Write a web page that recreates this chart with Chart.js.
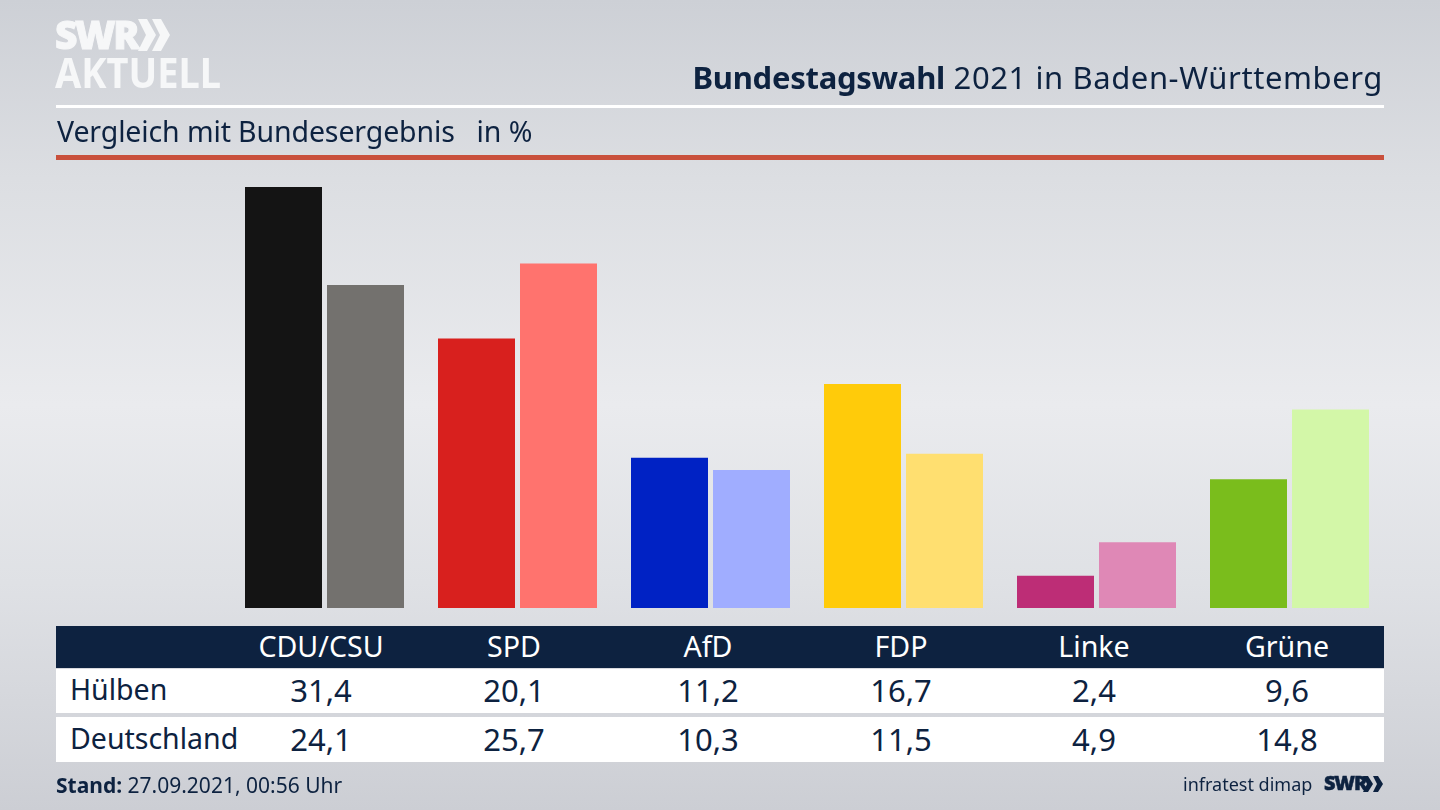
<!DOCTYPE html>
<html lang="de">
<head>
<meta charset="utf-8">
<script src="https://cdn.jsdelivr.net/npm/chart.js@4"></script>
<style>
    html, body { margin: 0; padding: 0; }
    body {
        width: 1440px; height: 810px; overflow: hidden; position: relative;
        font-family: "Noto Sans", sans-serif; color: #0d2240;
        background: linear-gradient(180deg, #cdd0d6 0%, #dcdee2 22%, #eaebee 50%, #dfe1e5 72%, #ccced4 100%);
    }
    #chart { position: absolute; left: 0; top: 0; }
    .txt { position: absolute; white-space: pre; line-height: 1; }
    .line { position: absolute; left: 56px; width: 1328px; }
    .row { position: absolute; left: 56px; width: 1328px; }
    .cell { position: absolute; transform: translateX(-50%); white-space: pre; line-height: 1; font-size: 31px; }
    #head .cell { font-size: 28.6px; }
</style>
</head>
<body>
<canvas id="chart" width="1440" height="810" style="width:1440px;height:810px"></canvas>

<svg style="position:absolute;left:0;top:0" width="240" height="100">
    <polygon fill="#f6f7f8" points="138,19 147,19 156,35 147,51 138,51 146,35"/>
    <polygon fill="#f6f7f8" points="152,19 161,19 170,35 161,51 152,51 160,35"/>
</svg>
<div class="txt" style="left:55px;top:14px;font-size:39px;font-weight:800;color:#f6f7f8;letter-spacing:-2.4px;font-family:'Open Sans';-webkit-text-stroke:1px #f6f7f8">SWR</div>
<div class="txt" style="left:55px;top:51px;font-size:42px;font-weight:700;color:#f6f7f8;transform:scaleX(.905);transform-origin:0 0">AKTUELL</div>

<div class="txt" id="title" style="right:57px;top:62px;font-size:31px;letter-spacing:.58px"><b style="letter-spacing:-.27px">Bundestagswahl</b> 2021 in Baden-Württemberg</div>
<div class="line" style="top:105px;height:3px;background:#fff"></div>
<div class="txt" style="left:57px;top:117px;font-size:28.5px;letter-spacing:-.12px">Vergleich mit Bundesergebnis   in %</div>
<div class="line" style="top:155px;height:5px;background:#c9503c"></div>

<div class="row" id="head" style="top:626px;height:42px;background:#0d2240;color:#fff"></div>
<div class="row" id="row1" style="top:669px;height:44px;background:#fff"></div>
<div class="row" id="row2" style="top:717px;height:45px;background:#fff"></div>

<div class="txt" style="left:56px;top:775px;font-size:21px"><b>Stand:</b> 27.09.2021, 00:56 Uhr</div>
<div class="txt" style="left:1183px;top:775px;font-size:18px">infratest dimap</div>
<div class="txt" style="left:1324px;top:773px;font-size:20px;font-weight:800;letter-spacing:-1.2px;font-family:'Open Sans';-webkit-text-stroke:.5px #0d2240">SWR</div>
<svg style="position:absolute;left:1363px;top:775px" width="22" height="20">
    <polygon fill="#0d2240" points="0,1 5,1 10,9 5,17 0,17 4,9"/>
    <polygon fill="#0d2240" points="10,1 15,1 20,9 15,17 10,17 14,9"/>
</svg>

<script>
const parties = ["CDU/CSU", "SPD", "AfD", "FDP", "Linke", "Grüne"];
const regionNames = ["Hülben", "Deutschland"];
const huelben = [31.4, 20.1, 11.2, 16.7, 2.4, 9.6];
const deutschland = [24.1, 25.7, 10.3, 11.5, 4.9, 14.8];
const huelbenColors = ["#141414", "#d8201e", "#0022c4", "#ffcb0a", "#bd2d76", "#7abd1c"];
const deutschlandColors = ["#73716e", "#ff736e", "#a0adff", "#ffdf70", "#df88b6", "#d3f7a8"];

const ctx = document.getElementById("chart").getContext("2d");
new Chart(ctx, {
    type: "bar",
    data: {
        labels: parties,
        datasets: [
            { label: regionNames[0], data: huelben, backgroundColor: huelbenColors },
            { label: regionNames[1], data: deutschland, backgroundColor: deutschlandColors },
        ],
    },
    options: {
        responsive: false,
        animation: false,
        datasets: { bar: { categoryPercentage: 164 / 193, barPercentage: 77 / 82 } },
        layout: { padding: { left: 228, right: 54, top: 179, bottom: 202 } },
        plugins: { legend: { display: false }, tooltip: { enabled: false } },
        scales: {
            x: { display: false },
            y: { display: false, min: 0, max: 32 },
        },
    },
});

// table below the bars
const fmt = (v) => v.toFixed(1).replace(".", ",");
const colX = [265, 458, 652, 845, 1038, 1231];

function addCell(parent, text, x, top) {
    const el = document.createElement("div");
    el.className = "cell";
    el.textContent = text;
    el.style.left = x + "px";
    el.style.top = top + "px";
    parent.appendChild(el);
}

const head = document.getElementById("head");
parties.forEach((p, i) => addCell(head, p, colX[i], 6));

[["row1", huelben, 6], ["row2", deutschland, 7]].forEach(([id, values, top], r) => {
    const row = document.getElementById(id);
    const name = document.createElement("div");
    name.className = "txt";
    name.textContent = regionNames[r];
    name.style.cssText = "left:14px;font-size:28.5px;top:" + top + "px";
    row.appendChild(name);
    values.forEach((v, i) => addCell(row, fmt(v), colX[i], top));
});
</script>
</body>
</html>
